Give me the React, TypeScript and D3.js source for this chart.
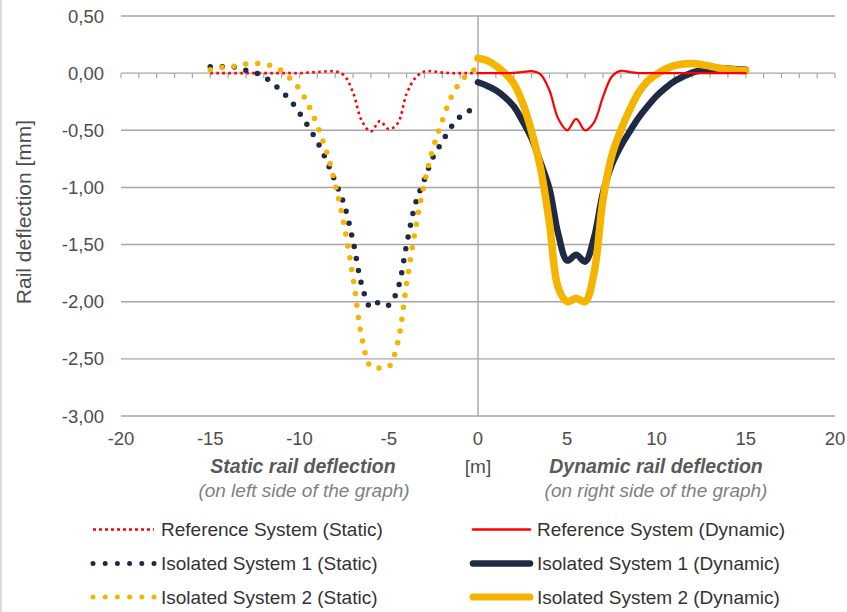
import React, { useRef, useEffect } from "react";
import * as d3 from "d3";

// x positions (m) for the static curves (left side) and dynamic curves (right side)
const staticX = [
  -15, -14.5, -14, -13.5, -13, -12.5, -12, -11.5, -11, -10.5, -10, -9.5, -9, -8.5, -8, -7.5,
  -7, -6.5, -6, -5.5, -5, -4.5, -4, -3.5, -3, -2.5, -2, -1.5, -1, -0.5, 0,
];
const dynamicX = [
  0, 0.5, 1, 1.5, 2, 2.5, 3, 3.5, 4, 4.5, 5, 5.5, 6, 6.5, 7, 7.5,
  8, 8.5, 9, 9.5, 10, 10.5, 11, 11.5, 12, 12.5, 13, 13.5, 14, 14.5, 15,
];

const refStatic = [
  0, 0, 0, 0, 0, 0, 0, 0, 0, 0, 0, 0.005, 0.01, 0.015, 0.015, -0.02,
  -0.17, -0.42, -0.51, -0.42, -0.49, -0.44, -0.18, -0.04, 0.015, 0.015, 0.005, 0, 0, 0, 0,
];
const iso1Static = [
  0.055, 0.055, 0.055, 0.05, 0.025, 0.005, -0.03, -0.09, -0.16, -0.24, -0.35, -0.47, -0.6, -0.76, -0.95, -1.15,
  -1.47, -1.86, -2.05, -2.0, -2.03, -1.89, -1.5, -1.14, -0.93, -0.73, -0.6, -0.47, -0.38, -0.33, -0.29,
];
const iso2Static = [
  0.03, 0.045, 0.055, 0.065, 0.08, 0.085, 0.08, 0.06, 0.02, -0.05, -0.14, -0.28, -0.46, -0.68, -0.97, -1.33,
  -1.79, -2.32, -2.57, -2.58, -2.57, -2.36, -1.84, -1.36, -0.96, -0.645, -0.415, -0.21, -0.08, 0.0, 0.05,
];

const refDynamic = [
  0, 0, 0, 0, 0.003, 0.01, 0.017, -0.01, -0.15, -0.4, -0.5, -0.4, -0.5, -0.43, -0.21, -0.03,
  0.02, 0.01, 0, 0, 0, 0, 0, 0, 0, 0, 0, 0, 0, 0, 0,
];
const iso1Dynamic = [
  -0.08, -0.11, -0.15, -0.21, -0.29, -0.42, -0.57, -0.78, -1.01, -1.41, -1.64, -1.59, -1.65, -1.44, -1.05, -0.8,
  -0.64, -0.51, -0.39, -0.29, -0.2, -0.13, -0.07, -0.03, 0.005, 0.025, 0.035, 0.04, 0.04, 0.035, 0.03,
];
const iso2Dynamic = [
  0.13, 0.11, 0.065, 0.0, -0.09, -0.26, -0.51, -0.83, -1.31, -1.88, -2.0, -1.97, -2.0, -1.75, -1.11, -0.72,
  -0.5, -0.32, -0.17, -0.07, -0.01, 0.035, 0.065, 0.08, 0.085, 0.075, 0.06, 0.045, 0.035, 0.026, 0.02,
];

const yTicks = [0.5, 0, -0.5, -1, -1.5, -2, -2.5, -3];
const xTicks = [-20, -15, -10, -5, 0, 5, 10, 15, 20];

const RED = "#ff0000";
const NAVY = "#1f2a44";
const GOLD = "#f5b400";

const fmt = (v: number) => d3.format(".2f")(v).replace(".", ",").replace("−", "-");

export default function App() {
  const ref = useRef<SVGSVGElement | null>(null);

  useEffect(() => {
    const svg = d3.select(ref.current);
    svg.selectAll("*").remove();

    const x = d3.scaleLinear().domain([-20, 20]).range([121, 835]);
    const y = d3.scaleLinear().domain([-3, 0.5]).range([416, 16]);
    const font = "'Liberation Sans', Arial, sans-serif";

    // frame edge on the left
    svg.append("line").attr("x1", 1).attr("x2", 1).attr("y1", 0).attr("y2", 612)
      .attr("stroke", "#cfcfcf").attr("stroke-width", 1.5);

    // horizontal gridlines
    svg.append("g").selectAll("line").data(yTicks).join("line")
      .attr("x1", x(-20)).attr("x2", x(20))
      .attr("y1", (d) => y(d)).attr("y2", (d) => y(d))
      .attr("stroke", "#a6a6a6").attr("stroke-width", 1.4);

    // minor ticks on the zero line
    svg.append("g").selectAll("line").data(d3.range(-20, 21, 1)).join("line")
      .attr("x1", (d) => x(d)).attr("x2", (d) => x(d))
      .attr("y1", y(0)).attr("y2", y(0) + 5)
      .attr("stroke", "#a6a6a6").attr("stroke-width", 1.2);

    // vertical axis at x = 0
    svg.append("line").attr("x1", x(0)).attr("x2", x(0)).attr("y1", y(0.5)).attr("y2", y(-3))
      .attr("stroke", "#a6a6a6").attr("stroke-width", 1.4);

    // y tick labels
    svg.append("g").selectAll("text").data(yTicks).join("text")
      .attr("x", 104).attr("y", (d) => y(d) + 6.5)
      .attr("text-anchor", "end").attr("font-family", font).attr("font-size", 18.5)
      .attr("fill", "#4d4d4d").text((d) => fmt(d));

    // x tick labels
    svg.append("g").selectAll("text").data(xTicks).join("text")
      .attr("x", (d) => x(d)).attr("y", 445)
      .attr("text-anchor", "middle").attr("font-family", font).attr("font-size", 18.5)
      .attr("fill", "#4d4d4d").text((d) => String(d));

    // y axis title
    svg.append("text")
      .attr("transform", "translate(31,212) rotate(-90)")
      .attr("text-anchor", "middle").attr("font-family", font).attr("font-size", 21)
      .attr("fill", "#4d4d4d").text("Rail deflection [mm]");

    // x axis captions
    const cap = svg.append("g").attr("font-family", font).attr("text-anchor", "middle");
    cap.append("text").attr("x", 303).attr("y", 473).attr("font-size", 19.5)
      .attr("font-weight", "bold").attr("font-style", "italic").attr("fill", "#595959")
      .text("Static rail deflection");
    cap.append("text").attr("x", 304).attr("y", 497).attr("font-size", 19)
      .attr("font-style", "italic").attr("fill", "#7f7f7f")
      .text("(on left side of the graph)");
    cap.append("text").attr("x", x(0)).attr("y", 473).attr("font-size", 19)
      .attr("fill", "#4d4d4d").text("[m]");
    cap.append("text").attr("x", 656).attr("y", 473).attr("font-size", 19.5)
      .attr("font-weight", "bold").attr("font-style", "italic").attr("fill", "#595959")
      .text("Dynamic rail deflection");
    cap.append("text").attr("x", 656).attr("y", 497).attr("font-size", 19)
      .attr("font-style", "italic").attr("fill", "#7f7f7f")
      .text("(on right side of the graph)");

    const line = (xs: number[]) =>
      d3.line<number>()
        .x((_, i) => x(xs[i]))
        .y((d) => y(d))
        .curve(d3.curveCatmullRom.alpha(0.5));

    const plot = svg.append("g").attr("fill", "none");

    const series = [
      { xs: dynamicX, ys: iso1Dynamic, color: NAVY, width: 6.5, dash: null, cap: "round" },
      { xs: dynamicX, ys: iso2Dynamic, color: GOLD, width: 7.5, dash: null, cap: "round" },
      { xs: dynamicX, ys: refDynamic, color: RED, width: 2.2, dash: null, cap: "round" },
      { xs: staticX, ys: refStatic, color: RED, width: 2.6, dash: "2.6 3.4", cap: "butt" },
      { xs: staticX, ys: iso1Static, color: NAVY, width: 5.5, dash: "0 12", cap: "round" },
      { xs: staticX, ys: iso2Static, color: GOLD, width: 5.5, dash: "0 12", cap: "round" },
    ];

    series.forEach((s) => {
      plot.append("path")
        .attr("d", line(s.xs)(s.ys))
        .attr("stroke", s.color)
        .attr("stroke-width", s.width)
        .attr("stroke-linecap", s.cap)
        .attr("stroke-linejoin", "round")
        .attr("stroke-dasharray", s.dash);
    });

    // legend
    const legend = [
      { label: "Reference System (Static)", color: RED, width: 2.6, dash: "3 3", cap: "butt", col: 0, row: 0 },
      { label: "Isolated System 1 (Static)", color: NAVY, width: 5, dash: "0 12.2", cap: "round", col: 0, row: 1 },
      { label: "Isolated System 2 (Static)", color: GOLD, width: 5, dash: "0 12.2", cap: "round", col: 0, row: 2 },
      { label: "Reference System (Dynamic)", color: RED, width: 2.6, dash: null, cap: "round", col: 1, row: 0 },
      { label: "Isolated System 1 (Dynamic)", color: NAVY, width: 6.5, dash: null, cap: "round", col: 1, row: 1 },
      { label: "Isolated System 2 (Dynamic)", color: GOLD, width: 7, dash: null, cap: "round", col: 1, row: 2 },
    ];
    const colX = [[93, 154, 161], [473, 530, 537]];
    const rowY = [529.5, 563.5, 597];

    const lg = svg.append("g").selectAll("g").data(legend).join("g");
    lg.append("line")
      .attr("x1", (d) => colX[d.col][0]).attr("x2", (d) => colX[d.col][1])
      .attr("y1", (d) => rowY[d.row]).attr("y2", (d) => rowY[d.row])
      .attr("stroke", (d) => d.color).attr("stroke-width", (d) => d.width)
      .attr("stroke-linecap", (d) => d.cap).attr("stroke-dasharray", (d) => d.dash);
    lg.append("text")
      .attr("x", (d) => colX[d.col][2]).attr("y", (d) => rowY[d.row] + 6.8)
      .attr("font-family", font).attr("font-size", 19).attr("fill", "#333333")
      .text((d) => d.label);
  }, []);

  return (
    <div style={{ position: "absolute", left: 0, top: 0 }}>
      <svg ref={ref} width={847} height={612} style={{ display: "block", background: "#ffffff" }} />
    </div>
  );
}
